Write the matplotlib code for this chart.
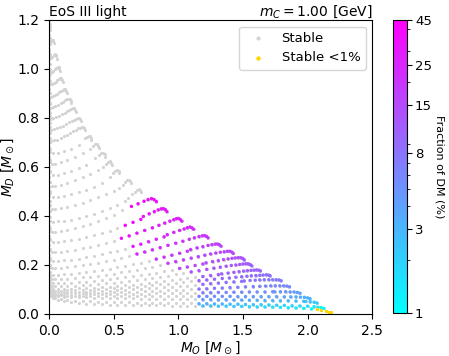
import matplotlib.pyplot as plt
import matplotlib.colors as mcolors
import numpy as np

# M_O positions of the point columns; neighbouring arcs alternate between the two
mo_grid_a = [0.005, 0.02, 0.05, 0.09, 0.14, 0.2, 0.26, 0.32, 0.38, 0.44, 0.5, 0.56, 0.62,
             0.68, 0.74, 0.8, 0.86, 0.92, 0.98, 1.04, 1.1, 1.16, 1.22, 1.28, 1.34, 1.4,
             1.46, 1.52, 1.58, 1.64, 1.7, 1.76, 1.82, 1.88, 1.94, 2.0, 2.05, 2.09, 2.12]
mo_grid_b = [0.008, 0.03, 0.07, 0.115, 0.17, 0.23, 0.29, 0.35, 0.41, 0.47, 0.53, 0.59, 0.65,
             0.71, 0.77, 0.83, 0.89, 0.95, 1.01, 1.07, 1.13, 1.19, 1.25, 1.31, 1.37, 1.43,
             1.49, 1.55, 1.61, 1.67, 1.73, 1.79, 1.85, 1.91, 1.97, 2.03, 2.07, 2.105, 2.13]

# dense strip of points along M_O ~ 0
col_mo = [0.004, 0.012]
col_md_a = [0.085, 0.115, 0.145, 0.175, 0.205, 0.24, 0.28, 0.32, 0.36, 0.4, 0.44, 0.48, 0.52,
            0.56, 0.6, 0.64, 0.68, 0.72, 0.76, 0.8, 0.84, 0.88, 0.92, 0.96, 1.0, 1.04, 1.08,
            1.12, 1.16]
col_md_b = [0.1, 0.13, 0.16, 0.19, 0.22, 0.26, 0.3, 0.34, 0.38, 0.42, 0.46, 0.5, 0.54, 0.58,
            0.62, 0.66, 0.7, 0.74, 0.78, 0.82, 0.86, 0.9, 0.94, 0.98, 1.02, 1.06, 1.1]

# short arcs near the top, (M_O, M_D)
arc_01 = [(0.002, 1.195), (0.005, 1.185), (0.009, 1.172), (0.012, 1.158)]
arc_02 = [(0.002, 1.14), (0.005, 1.125), (0.01, 1.112), (0.016, 1.114), (0.022, 1.118),
          (0.028, 1.12), (0.033, 1.114), (0.036, 1.104)]
arc_03 = [(0.002, 1.075), (0.005, 1.058), (0.01, 1.045), (0.018, 1.046), (0.027, 1.05),
          (0.036, 1.055), (0.045, 1.059), (0.052, 1.058), (0.057, 1.051), (0.06, 1.04)]
arc_04 = [(0.002, 1.02), (0.006, 1.0), (0.012, 0.987), (0.022, 0.988), (0.034, 0.992),
          (0.046, 0.998), (0.057, 1.004), (0.067, 1.009), (0.075, 1.008), (0.08, 1.0),
          (0.083, 0.99)]
arc_05 = [(0.002, 0.97), (0.006, 0.95), (0.013, 0.937), (0.025, 0.938), (0.038, 0.942),
          (0.052, 0.948), (0.065, 0.954), (0.077, 0.96), (0.088, 0.964), (0.097, 0.963),
          (0.103, 0.956), (0.106, 0.946)]
arc_06 = [(0.002, 0.92), (0.006, 0.9), (0.014, 0.887), (0.028, 0.888), (0.045, 0.893),
          (0.062, 0.899), (0.078, 0.905), (0.093, 0.911), (0.106, 0.916), (0.118, 0.919),
          (0.127, 0.918), (0.133, 0.911), (0.136, 0.901)]
arc_07 = [(0.002, 0.875), (0.006, 0.856), (0.015, 0.842), (0.03, 0.843), (0.05, 0.848),
          (0.07, 0.854), (0.09, 0.86), (0.108, 0.866), (0.124, 0.872), (0.138, 0.876),
          (0.15, 0.879), (0.16, 0.878), (0.167, 0.871), (0.171, 0.861)]
arc_08 = [(0.003, 0.83), (0.008, 0.81), (0.018, 0.797), (0.035, 0.798), (0.057, 0.803),
          (0.08, 0.809), (0.102, 0.816), (0.122, 0.822), (0.14, 0.828), (0.157, 0.833),
          (0.172, 0.837), (0.185, 0.839), (0.196, 0.839), (0.204, 0.833), (0.209, 0.823)]
arc_09 = [(0.003, 0.785), (0.008, 0.765), (0.018, 0.752), (0.037, 0.753), (0.06, 0.757),
          (0.085, 0.763), (0.11, 0.769), (0.133, 0.776), (0.155, 0.782), (0.175, 0.788),
          (0.193, 0.793), (0.209, 0.797), (0.223, 0.799), (0.235, 0.8), (0.244, 0.795),
          (0.249, 0.786)]
arc_10 = [(0.003, 0.74), (0.008, 0.72), (0.019, 0.707), (0.04, 0.708), (0.065, 0.712),
          (0.092, 0.718), (0.118, 0.725), (0.143, 0.732), (0.166, 0.739), (0.187, 0.746),
          (0.206, 0.752), (0.223, 0.757), (0.238, 0.761), (0.252, 0.764), (0.265, 0.765),
          (0.274, 0.76), (0.279, 0.751)]

# longer arcs: M_D along the column grid, then the hook near the maximum
md_11 = [0.675, 0.658, 0.659, 0.665, 0.675, 0.69, 0.707]
hook_11 = [(0.282, 0.717), (0.296, 0.724), (0.307, 0.728), (0.316, 0.726), (0.322, 0.718), (0.325, 0.708)]
md_12 = [0.63, 0.612, 0.614, 0.62, 0.629, 0.642, 0.657, 0.673]
hook_12 = [(0.338, 0.684), (0.355, 0.692), (0.368, 0.693), (0.378, 0.687), (0.384, 0.677)]
md_13 = [0.585, 0.567, 0.569, 0.574, 0.582, 0.594, 0.608, 0.623]
hook_13 = [(0.36, 0.637), (0.385, 0.65), (0.405, 0.658), (0.42, 0.659), (0.43, 0.652), (0.436, 0.642)]
md_14 = [0.54, 0.522, 0.524, 0.528, 0.535, 0.546, 0.558, 0.572, 0.587]
hook_14 = [(0.415, 0.601), (0.44, 0.613), (0.458, 0.621), (0.472, 0.623), (0.483, 0.618), (0.49, 0.609)]
md_15 = [0.495, 0.477, 0.478, 0.482, 0.488, 0.497, 0.508, 0.52, 0.534, 0.549]
hook_15 = [(0.47, 0.561), (0.495, 0.575), (0.513, 0.584), (0.527, 0.588), (0.538, 0.584), (0.545, 0.576)]
md_16 = [0.445, 0.427, 0.428, 0.431, 0.436, 0.444, 0.453, 0.464, 0.476, 0.489, 0.503]
hook_16 = [(0.545, 0.516), (0.57, 0.528), (0.59, 0.538), (0.605, 0.545), (0.617, 0.548), (0.627, 0.544),
           (0.633, 0.536)]
md_17 = [0.395, 0.377, 0.378, 0.381, 0.385, 0.392, 0.4, 0.41, 0.421, 0.433, 0.446, 0.46]
hook_17 = [(0.61, 0.475), (0.64, 0.488), (0.665, 0.499), (0.683, 0.506), (0.697, 0.509), (0.708, 0.505),
           (0.715, 0.497)]
md_18 = [0.35, 0.335, 0.336, 0.339, 0.344, 0.351, 0.359, 0.368, 0.379, 0.391, 0.404]
hook_18 = [(0.568, 0.425), (0.638, 0.439), (0.689, 0.45), (0.735, 0.46), (0.766, 0.467), (0.793, 0.471),
           (0.813, 0.467), (0.831, 0.459)]
md_19 = [0.305, 0.292, 0.293, 0.296, 0.3, 0.306, 0.313, 0.321, 0.33, 0.34, 0.351, 0.362, 0.374, 0.386]
hook_19 = [(0.73, 0.398), (0.775, 0.409), (0.815, 0.418), (0.845, 0.425), (0.868, 0.429), (0.885, 0.43),
           (0.9, 0.426), (0.912, 0.418)]
md_20 = [0.265, 0.251, 0.252, 0.254, 0.258, 0.262, 0.268, 0.275, 0.282, 0.29, 0.299, 0.309, 0.319, 0.33,
         0.341, 0.352]
hook_20 = [(0.85, 0.362), (0.895, 0.371), (0.935, 0.379), (0.965, 0.385), (0.985, 0.389), (1.0, 0.39),
           (1.015, 0.386), (1.027, 0.379)]
md_21 = [0.23, 0.216, 0.217, 0.219, 0.222, 0.226, 0.231, 0.237, 0.244, 0.251, 0.259, 0.267, 0.276, 0.285,
         0.295, 0.305, 0.315]
hook_21 = [(0.915, 0.324), (0.965, 0.333), (1.01, 0.341), (1.045, 0.347), (1.07, 0.352), (1.09, 0.355),
           (1.105, 0.352), (1.118, 0.346)]
md_22 = [0.198, 0.186, 0.187, 0.188, 0.191, 0.194, 0.198, 0.203, 0.209, 0.215, 0.222, 0.229, 0.237, 0.245,
         0.253, 0.262, 0.271, 0.28, 0.289]
hook_22 = [(1.035, 0.297), (1.085, 0.305), (1.125, 0.311), (1.16, 0.316), (1.185, 0.319), (1.203, 0.32),
           (1.218, 0.317), (1.23, 0.311)]
md_23 = [0.172, 0.161, 0.161, 0.163, 0.165, 0.168, 0.171, 0.175, 0.18, 0.185, 0.191, 0.197, 0.203, 0.21,
         0.217, 0.224, 0.232, 0.24, 0.248, 0.256]
hook_23 = [(1.095, 0.263), (1.145, 0.27), (1.19, 0.275), (1.23, 0.28), (1.26, 0.283), (1.285, 0.285),
           (1.302, 0.286), (1.317, 0.283), (1.33, 0.277)]
md_24 = [0.15, 0.141, 0.141, 0.142, 0.144, 0.146, 0.149, 0.152, 0.156, 0.16, 0.165, 0.17, 0.175, 0.181,
         0.187, 0.193, 0.2, 0.207, 0.214, 0.221, 0.228]
hook_24 = [(1.155, 0.234), (1.205, 0.24), (1.25, 0.245), (1.29, 0.249), (1.325, 0.252), (1.355, 0.254),
           (1.38, 0.256), (1.398, 0.256), (1.413, 0.253), (1.425, 0.247)]
md_25 = [0.133, 0.126, 0.126, 0.127, 0.128, 0.13, 0.132, 0.135, 0.138, 0.141, 0.145, 0.149, 0.153, 0.158,
         0.163, 0.168, 0.174, 0.18, 0.186, 0.192, 0.198, 0.204]
hook_25 = [(1.215, 0.209), (1.265, 0.214), (1.31, 0.218), (1.35, 0.222), (1.385, 0.225), (1.415, 0.227),
           (1.44, 0.229), (1.463, 0.23), (1.482, 0.23), (1.497, 0.227), (1.51, 0.221)]
md_26 = [0.12, 0.113, 0.113, 0.113, 0.114, 0.116, 0.118, 0.12, 0.122, 0.125, 0.128, 0.131, 0.135, 0.139,
         0.143, 0.147, 0.152, 0.157, 0.162, 0.167, 0.172, 0.177, 0.182]
hook_26 = [(1.275, 0.187), (1.325, 0.191), (1.37, 0.195), (1.41, 0.198), (1.445, 0.2), (1.475, 0.202),
           (1.5, 0.204), (1.522, 0.205), (1.54, 0.205), (1.555, 0.202), (1.567, 0.197)]
md_27 = [0.108, 0.103, 0.103, 0.103, 0.104, 0.105, 0.106, 0.108, 0.11, 0.112, 0.114, 0.117, 0.12, 0.123,
         0.126, 0.129, 0.133, 0.137, 0.141, 0.145, 0.149, 0.153, 0.157, 0.161]
hook_27 = [(1.335, 0.164), (1.385, 0.167), (1.43, 0.17), (1.47, 0.173), (1.505, 0.175), (1.535, 0.177),
           (1.562, 0.178), (1.585, 0.179), (1.605, 0.18), (1.622, 0.179), (1.635, 0.176)]
md_28 = [0.1, 0.095, 0.095, 0.095, 0.096, 0.097, 0.098, 0.099, 0.101, 0.103, 0.105, 0.107, 0.109, 0.112,
         0.115, 0.118, 0.121, 0.124, 0.127, 0.13, 0.133, 0.136, 0.139, 0.142, 0.145]
hook_28 = [(1.395, 0.147), (1.445, 0.15), (1.49, 0.152), (1.53, 0.154), (1.565, 0.156), (1.6, 0.157),
           (1.63, 0.158), (1.655, 0.159), (1.68, 0.16), (1.698, 0.159), (1.71, 0.156)]
md_29 = [0.093, 0.088, 0.088, 0.089, 0.089, 0.09, 0.091, 0.092, 0.094, 0.095, 0.097, 0.099, 0.101, 0.103,
         0.105, 0.107, 0.109, 0.112, 0.114, 0.116, 0.119, 0.121, 0.124, 0.126, 0.129, 0.131, 0.133]
hook_29 = [(1.51, 0.135), (1.555, 0.137), (1.595, 0.138), (1.63, 0.139), (1.665, 0.14), (1.7, 0.14),
           (1.73, 0.14), (1.758, 0.14), (1.78, 0.139), (1.795, 0.136)]
md_30 = [0.087, 0.083, 0.083, 0.083, 0.084, 0.084, 0.085, 0.085, 0.086, 0.087, 0.088, 0.089, 0.09, 0.091,
         0.092, 0.093, 0.095, 0.096, 0.097, 0.099, 0.1, 0.102, 0.103, 0.105, 0.106, 0.108, 0.109, 0.111, 0.112]
hook_30 = [(1.63, 0.113), (1.675, 0.114), (1.715, 0.115), (1.75, 0.115), (1.785, 0.115), (1.815, 0.115),
           (1.84, 0.114), (1.86, 0.111)]
md_31 = [0.082, 0.079, 0.079, 0.079, 0.079, 0.079, 0.08, 0.08, 0.08, 0.081, 0.081, 0.082, 0.082, 0.083,
         0.083, 0.084, 0.084, 0.085, 0.085, 0.086, 0.086, 0.087, 0.087, 0.088, 0.088, 0.089, 0.089, 0.09,
         0.09, 0.09, 0.091]
hook_31 = [(1.745, 0.091), (1.79, 0.091), (1.83, 0.091), (1.865, 0.09), (1.895, 0.09), (1.92, 0.088),
           (1.94, 0.085)]
md_32 = [0.08, 0.076, 0.076, 0.076, 0.075, 0.075, 0.075, 0.075, 0.074, 0.074, 0.074, 0.074, 0.074, 0.073,
         0.073, 0.073, 0.073, 0.073, 0.073, 0.072, 0.072, 0.072, 0.072, 0.072, 0.072, 0.072, 0.071, 0.071,
         0.071, 0.071, 0.071, 0.071, 0.07]
hook_32 = [(1.87, 0.07), (1.91, 0.07), (1.945, 0.069), (1.975, 0.068), (2.0, 0.066), (2.018, 0.063)]
md_33 = [0.076, 0.073, 0.072, 0.071, 0.07, 0.069, 0.068, 0.067, 0.066, 0.066, 0.065, 0.064, 0.064, 0.063,
         0.063, 0.062, 0.062, 0.061, 0.061, 0.06, 0.06, 0.059, 0.059, 0.058, 0.058, 0.057, 0.057, 0.056,
         0.056, 0.055, 0.055, 0.054, 0.054, 0.053, 0.052]
hook_33 = [(1.985, 0.051), (2.02, 0.05), (2.05, 0.048), (2.072, 0.045)]
md_34 = [0.078, 0.072, 0.066, 0.061, 0.058, 0.055, 0.053, 0.051, 0.05, 0.049, 0.048, 0.047, 0.047, 0.046,
         0.046, 0.045, 0.045, 0.044, 0.044, 0.043, 0.043, 0.042, 0.042, 0.041, 0.041, 0.04, 0.04, 0.039,
         0.038, 0.038, 0.037, 0.036, 0.035, 0.034, 0.033, 0.032, 0.03]
hook_34 = [(2.08, 0.028), (2.105, 0.026), (2.125, 0.023)]
md_35 = [0.075, 0.065, 0.057, 0.051, 0.047, 0.044, 0.042, 0.04, 0.039, 0.038, 0.037, 0.037, 0.036, 0.036,
         0.035, 0.035, 0.035, 0.034, 0.034, 0.034, 0.033, 0.033, 0.033, 0.032, 0.032, 0.031, 0.031, 0.03,
         0.029, 0.029, 0.028, 0.027, 0.026, 0.025, 0.023, 0.021, 0.019, 0.017, 0.015]
hook_35 = [(2.145, 0.013), (2.165, 0.01), (2.18, 0.007)]

# M_O from which each long arc (11..35) is in the coloured band
band_start = [None, None, None, None, None, None, None, 0.6, 0.55, 0.55, 0.62, 0.68, 0.78, 0.9,
              1.0, 1.1, 1.15, 1.15, 1.15, 1.15, 1.15, 1.15, 1.15, 1.15, 1.15]

short_arcs = [arc_01, arc_02, arc_03, arc_04, arc_05, arc_06, arc_07, arc_08, arc_09, arc_10]
long_md = [md_11, md_12, md_13, md_14, md_15, md_16, md_17, md_18, md_19, md_20, md_21, md_22, md_23,
           md_24, md_25, md_26, md_27, md_28, md_29, md_30, md_31, md_32, md_33, md_34, md_35]
long_hook = [hook_11, hook_12, hook_13, hook_14, hook_15, hook_16, hook_17, hook_18, hook_19, hook_20,
             hook_21, hook_22, hook_23, hook_24, hook_25, hook_26, hook_27, hook_28, hook_29, hook_30,
             hook_31, hook_32, hook_33, hook_34, hook_35]

all_pts = [(col_mo[0], y) for y in col_md_a] + [(col_mo[1], y) for y in col_md_b]
for arc in short_arcs:
    all_pts += arc
band_pts = []
for k, (md, hook, start) in enumerate(zip(long_md, long_hook, band_start)):
    grid = mo_grid_a if k % 2 == 1 else mo_grid_b
    pts = [p for p in zip(grid, md) if p[0] < hook[0][0] - 0.015] + hook
    all_pts += pts
    if start is not None:
        band_pts += [p for p in pts if p[0] >= start]

all_pts = np.array(all_pts)
band_pts = np.array(band_pts)
frac = 100 * band_pts[:, 1] / (band_pts[:, 0] + band_pts[:, 1])
low = frac < 1

fig = plt.figure(figsize=(4.49, 3.56), dpi=100)
ax = fig.add_axes([0.109, 0.118, 0.72, 0.826])
cax = fig.add_axes([0.8746, 0.12, 0.0325, 0.824])

ax.scatter(all_pts[:, 0], all_pts[:, 1], s=5, color='lightgray', linewidths=0, label='Stable')
sc = ax.scatter(band_pts[~low, 0], band_pts[~low, 1], s=6, c=frac[~low], cmap='cool',
                norm=mcolors.LogNorm(vmin=1, vmax=45), linewidths=0)
ax.scatter(band_pts[low, 0], band_pts[low, 1], s=6, color='gold', linewidths=0, label='Stable <1%')

ax.set_xlim(0, 2.5)
ax.set_ylim(0, 1.2)
ax.set_xticks([0.0, 0.5, 1.0, 1.5, 2.0, 2.5])
ax.tick_params(labelsize=10)
ax.set_xlabel(r'$M_O$ [$M_\odot$]', fontsize=10, labelpad=1)
ax.set_ylabel(r'$M_D$ [$M_\odot$]', fontsize=10, labelpad=1)
ax.set_title('EoS III light', loc='left', fontsize=10, pad=2)
ax.set_title(r'$m_C = 1.00$ [GeV]', loc='right', fontsize=10, pad=2)
ax.legend(loc='upper right', fontsize=9.5, markerscale=1.3)

cbar = fig.colorbar(sc, cax=cax, ticks=[1, 3, 8, 15, 25, 45])
cbar.ax.set_yticklabels(['1', '3', '8', '15', '25', '45'])
cbar.ax.tick_params(labelsize=9.5, pad=2)
cbar.set_label('Fraction of DM (%)', rotation=270, fontsize=8, labelpad=9)

fig.savefig('out.png', dpi=100)
